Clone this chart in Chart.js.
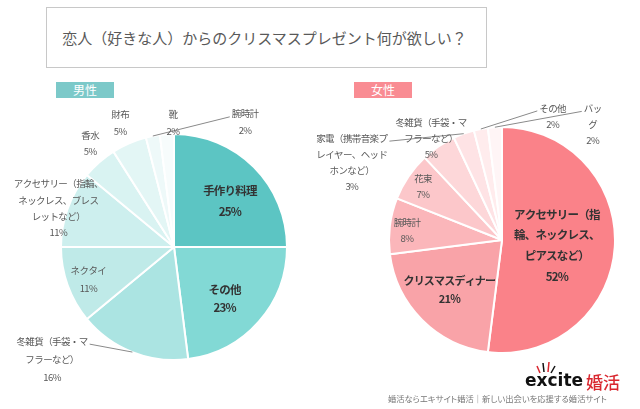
<!DOCTYPE html>
<html>
<head>
<meta charset="utf-8">
<script src="https://cdn.jsdelivr.net/npm/chart.js@4.4.1/dist/chart.umd.min.js"></script>
<style>
  body { margin: 0; width: 640px; height: 409px; overflow: hidden; background: #fff; position: relative;
         font-family: "Noto Sans CJK JP", sans-serif; }
  canvas { position: absolute; left: 0; top: 0; }
  #title { position: absolute; left: 46px; top: 7px; width: 441px; height: 61px; box-sizing: border-box;
           border: 1px solid #c8c8c8; display: flex; align-items: center; justify-content: center;
           font-size: 15px; color: #595959; padding-right: 4px; }
  .tag { position: absolute; top: 82px; height: 16px; width: 58px; color: #fff; font-size: 12px;
         line-height: 16px; text-align: center; font-feature-settings: "palt"; }
  #male { left: 56px; background: #7cc9c9; }
  #female { left: 354px; background: #f98c93; }
  #logo { position: absolute; left: 525px; top: 370px; font-family: "DejaVu Sans", sans-serif;
          font-weight: bold; font-size: 17px; color: #111; }
  #konkatsu { position: absolute; left: 586px; top: 369px; font-size: 17px; color: #d9262e; font-weight: 500; }
  #foot { position: absolute; left: 388px; top: 392px; font-size: 8.3px; color: #777; font-feature-settings: "palt"; white-space: nowrap; }
</style>
</head>
<body>
<div id="title">恋人（好きな人）からのクリスマスプレゼント何が欲しい？</div>
<div class="tag" id="male">男性</div>
<div class="tag" id="female">女性</div>
<canvas id="maleChart" width="640" height="409"></canvas>
<canvas id="femaleChart" width="640" height="409"></canvas>
<svg style="position:absolute;left:536px;top:360px" width="20" height="14">
  <line x1="4" y1="13" x2="1" y2="6" stroke="#d9262e" stroke-width="1.5"/>
  <line x1="8" y1="12" x2="7" y2="3" stroke="#111" stroke-width="1.5"/>
  <line x1="12" y1="12" x2="13" y2="2" stroke="#d9262e" stroke-width="1.5"/>
  <line x1="15" y1="13" x2="19" y2="6" stroke="#111" stroke-width="1.5"/>
</svg>
<div id="logo">excite</div>
<div id="konkatsu">婚活</div>
<div id="foot">婚活ならエキサイト婚活｜新しい出会いを応援する婚活サイト</div>
<script>
const maleLabels = ['手作り料理', 'その他', '冬雑貨（手袋・マ\nフラーなど）', 'ネクタイ',
  'アクセサリー（指輪、\nネックレス、ブレス\nレットなど）', '香水', '財布', '腕時計', '靴'];
const maleValues = [25, 23, 16, 11, 11, 5, 5, 2, 2];

const femaleLabels = ['アクセサリー（指\n輪、ネックレス、\nピアスなど）', 'クリスマスディナー', '腕時計', '花束',
  '冬雑貨（手袋・マ\nフラーなど）', '家電（携帯音楽プ\nレイヤー、ヘッド\nホンなど）', 'その他', 'バッ\nグ'];
const femaleValues = [52, 21, 8, 7, 5, 3, 2, 2];

const maleColors = ['#5cc5c3', '#82d9d5', '#abe4e2', '#bfeae8', '#cdefee', '#d9f3f2', '#e3f6f5', '#eef9f9', '#f7fcfc'];
const femaleColors = ['#fa8289', '#f9a3a8', '#fbb6ba', '#fcc7ca', '#fdd7d9', '#fee3e5', '#ffeced', '#fff5f6'];

// label placement: f = distance in radii, da = angle shift from slice middle (deg)
const malePlace = [
  { f: .64, da: 5.6, bold: true, size: 11.5, lh: 21 },
  { f: .64, da: 4.2, bold: true, size: 11.5, lh: 18 },
  { f: 1.466, da: 25.8, size: 9.5, lh: 18, line: true },
  { f: .81, da: -0.9, size: 9.5, lh: 18 },
  { f: 1.08, da: -1.2, size: 9.5, lh: 16.3 },
  { f: 1.18, da: 2.5, size: 9.5, lh: 16 },
  { f: 1.2, da: 0, size: 9.5, lh: 17 },
  { f: 1.27, da: 40.5, size: 9.5, lh: 17, line: true },
  { f: 1.10, da: 3.1, size: 9.5, lh: 17 }
];
const femalePlace = [
  { f: .487, da: 1.9, bold: true, size: 11.5, lh: 20.7 },
  { f: .64, da: 1.7, bold: true, size: 11, lh: 18 },
  { f: .845, da: -1.5, size: 9.5, lh: 16 },
  { f: .845, da: 0, size: 9.5, lh: 16 },
  { f: 1.10, da: -0.6, size: 9.5, lh: 16 },
  { f: 1.497, da: -42.8, size: 9.5, lh: 16, line: true },
  { f: 1.186, da: 33, size: 9.5, lh: 16, line: true },
  { f: 1.30, da: 41.7, size: 9.5, lh: 16, line: true }
];

const pieLabels = {
  id: 'pieLabels',
  afterDatasetsDraw(chart, args, opts) {
    const ctx = chart.ctx;
    const arcs = chart.getDatasetMeta(0).data;
    const names = chart.data.labels;
    const values = chart.data.datasets[0].data;
    const items = arcs.map((arc, i) => {
      const p = opts.place[i];
      const { x, y, startAngle, endAngle, outerRadius } =
        arc.getProps(['x', 'y', 'startAngle', 'endAngle', 'outerRadius'], true);
      const mid = (startAngle + endAngle) / 2;
      const a = mid + p.da * Math.PI / 180;
      return {
        p, mid, x, y, r: outerRadius,
        cx: x + Math.cos(a) * outerRadius * p.f,
        cy: y + Math.sin(a) * outerRadius * p.f,
        lines: names[i].split('\n').concat(values[i] + '%')
      };
    });
    ctx.save();
    ctx.textAlign = 'center';
    ctx.textBaseline = 'middle';
    // leader lines first
    items.forEach(it => {
      if (!it.p.line) return;
      ctx.font = it.p.size + 'px "Noto Sans CJK JP"';
      ctx.letterSpacing = '-0.6px';
      const w = ctx.measureText(it.lines[0]).width;
      const top = it.cy - (it.lines.length - 1) * it.p.lh / 2;
      const sx = it.x + Math.cos(it.mid) * it.r;
      const sy = it.y + Math.sin(it.mid) * it.r;
      const ex = sx < it.cx ? it.cx - w / 2 - 2 : it.cx + w / 2 + 2;
      ctx.beginPath();
      ctx.moveTo(sx, sy);
      ctx.lineTo(ex, top + 3);
      ctx.strokeStyle = '#8a8a8a';
      ctx.lineWidth = 1;
      ctx.stroke();
    });
    items.forEach(it => {
      ctx.font = (it.p.bold ? 'bold ' : '') + it.p.size + 'px "Noto Sans CJK JP"';
      ctx.letterSpacing = it.p.bold ? '-0.8px' : '-0.6px';
      ctx.fillStyle = it.p.bold ? '#333333' : '#595959';
      const top = it.cy - (it.lines.length - 1) * it.p.lh / 2;
      it.lines.forEach((t, k) => ctx.fillText(t, it.cx, top + k * it.p.lh));
    });
    ctx.restore();
  }
};

function makePie(id, labels, values, colors, place, pad) {
  return new Chart(document.getElementById(id), {
    type: 'pie',
    data: {
      labels: labels,
      datasets: [{ data: values, backgroundColor: colors, borderColor: '#ffffff', borderWidth: 2,
                   hoverOffset: 0, offset: 0 }]
    },
    options: {
      responsive: false,
      animation: false,
      events: [],
      layout: { padding: pad },
      plugins: { legend: { display: false }, tooltip: { enabled: false }, pieLabels: { place: place } }
    },
    plugins: [pieLabels]
  });
}

makePie('maleChart', maleLabels, maleValues, maleColors, malePlace,
  { left: 60, right: 352, top: 133, bottom: 48 });
makePie('femaleChart', femaleLabels, femaleValues, femaleColors, femalePlace,
  { left: 388, right: 24, top: 126, bottom: 55 });
</script>
</body>
</html>
